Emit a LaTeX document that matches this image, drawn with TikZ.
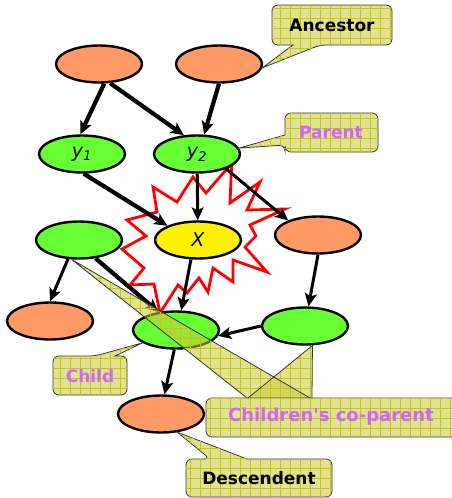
\documentclass[tikz,border=0pt]{standalone}
\usepackage{fontspec}
\setmainfont{DejaVu Sans}
\usetikzlibrary{arrows.meta,shapes.geometric,patterns.meta}
\definecolor{ancfill}{HTML}{FF9966}
\definecolor{grnfill}{HTML}{66FF33}
\definecolor{callfill}{HTML}{CCCC33}
\definecolor{gridcol}{HTML}{C4C420}
\definecolor{lilac}{HTML}{CC66FF}

\begin{document}
\begin{tikzpicture}[x=1pt, y=-1pt,
    oval/.style={ellipse, draw, line width=2.4pt, minimum width=86pt,
      minimum height=37pt, inner sep=0pt, font=\itshape\fontsize{19}{21}\selectfont},
    orangenode/.style={oval, fill=ancfill},
    greennode/.style={oval, fill=grnfill},
    arrow/.style={-{Stealth[length=13pt,width=12pt,inset=3pt]}, line width=3pt},
    heavyarrow/.style={arrow, line width=4.2pt},
    callout/.style={fill=callfill, fill opacity=0.55, draw=black!80, line width=0.8pt,
      postaction={pattern={Hatch[angle=0,distance=10pt,line width=0.5pt]},
        pattern color=gridcol}},
    calledge/.style={draw=black!80, line width=0.8pt},
    calltext/.style={font=\bfseries\fontsize{17}{20}\selectfont, fill opacity=1,
      text opacity=1}
  ]
    \useasboundingbox (0,0) rectangle (451,498);

    % the burst round X
    \draw[red, line width=2.8pt, fill=white] (231.7,163.3) -- (230,203) -- (260,182)
      -- (247,210) -- (285,209) -- (250,225) -- (256,236) -- (245,247) -- (267,272)
      -- (233,260) -- (233,282) -- (213,268) -- (208,292) -- (199,278) -- (187,293)
      -- (178,285) -- (160,313) -- (154,284) -- (130,285) -- (144,268) -- (122,249)
      -- (146,236) -- (127,220) -- (157,212) -- (153,187) -- (177,202) -- (193,177)
      -- (206,193) -- cycle;

    \node[orangenode] (ancL) at (99,64) {};
    \node[orangenode] (ancR) at (219,64) {};
    \node[greennode] (yA) at (82,154) {y\textsubscript{1}};
    \node[greennode] (yB) at (197,154) {y\textsubscript{2}};
    \node[oval, fill=yellow] (x) at (198,240) {X};
    \node[greennode] (copL) at (79,240) {};
    \node[orangenode] (orR) at (318,235) {};
    \node[orangenode] (leafL) at (50,321) {};
    \node[greennode] (child) at (176,330) {};
    \node[greennode] (copR) at (305,326) {};
    \node[orangenode] (desc) at (161,414) {};

    \draw[heavyarrow] (ancL.-75) -- (yA.95);
    \draw[heavyarrow] (ancL.-60) -- (yB.125);
    \draw[heavyarrow] (ancR.south) -- (yB.70);
    \draw[heavyarrow] (yA.-85) -- (x.155);
    \draw[arrow] (yB) -- (x);
    \draw[arrow] (yB.-27) -- (orR.154);
    \draw[arrow] (x.-110) -- (child.75);
    \draw[heavyarrow] (copL.-48) -- (child.134);
    \draw[arrow] (copL.-120) -- (leafL.north);
    \draw[arrow] (orR.south) -- (copR.80);
    \draw[arrow] (copR.west) -- (child.-8);
    \draw[arrow] (child.-95) -- (desc.80);

    % callouts
    \path[callout] (330,5) [rounded corners=6pt] -- (392,5) -- (392,45) -- (320,45)
      [sharp corners] -- (ancR.-5) -- (293,45) [rounded corners=6pt] -- (272,45)
      -- (272,5) -- cycle;
    \path[callout] (330,113) [rounded corners=6pt] -- (378,113) -- (378,152)
      -- (285,152) -- (285,145) [sharp corners] -- (yB.8) -- (285,135)
      [rounded corners=6pt] -- (285,113) -- cycle;
    \path[callout] (90,395) [rounded corners=6pt] -- (53,395) -- (53,356) -- (95,356)
      [sharp corners] -- (child.201) -- (115,356) [rounded corners=6pt] -- (127,356)
      -- (127,395) -- cycle;
    \path[callout] (260,497) [rounded corners=6pt] -- (186,497) -- (186,459)
      -- (210,459) [sharp corners] -- (desc.-48) -- (247,459) [rounded corners=6pt]
      -- (332,459) -- (332,497) -- cycle;
    \path[callout, draw=none] (247,398) -- (copL.-111) -- (310,398) -- cycle;
    \path[callout, draw=none] (248,398) -- (copR.-69) -- (312,398) -- cycle;
    \path[callout, rounded corners=6pt] (206,398) rectangle (460,437);
    \draw[calledge] (247,398) -- (copL.-111) -- (310,398);
    \draw[calledge] (248,398) -- (copR.-69) -- (312,398);

    \node[calltext] (lblAnc) at (332,25) {Ancestor};
    \node[calltext, text=lilac] (lblPar) at (331,132) {Parent};
    \node[calltext, text=lilac] (lblChild) at (90,376) {Child};
    \node[calltext, text=lilac, font=\bfseries\fontsize{18}{20}\selectfont] (lblCop)
      at (331,417) {Children\textquotesingle s co-parent};
    \node[calltext] (lblDesc) at (259,478) {Descendent};
\end{tikzpicture}
\end{document}
